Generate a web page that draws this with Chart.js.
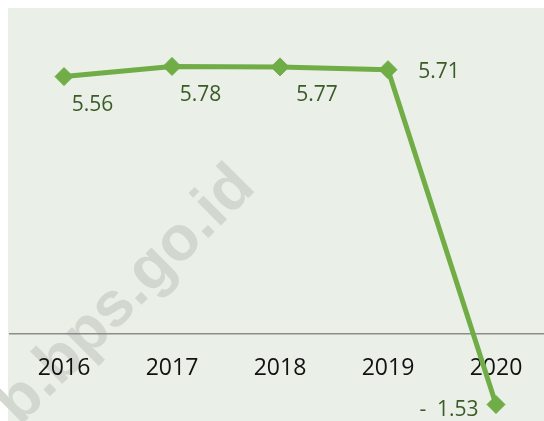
<!DOCTYPE html>
<html><head><meta charset="utf-8">
<script src="https://cdn.jsdelivr.net/npm/chart.js@4"></script>
<style>
html,body{margin:0;padding:0;overflow:hidden;background:#fff;width:544px;height:421px}
#wrap{position:absolute;left:0;top:0;width:560px;height:421px}
</style></head>
<body><div id="wrap"><canvas id="c"></canvas></div>
<script>
const categories = ['2016', '2017', '2018', '2019', '2020'];
const values = [5.56, 5.78, 5.77, 5.71, -1.53];
const valueLabels = ['5.56', '5.78', '5.77', '5.71', '-  1.53'];
const watermarkText = 'b.bps.go.id';

const bgPlugin = {
  id: 'bg',
  beforeDraw(chart) {
    const ctx = chart.ctx;
    ctx.save();
    ctx.fillStyle = '#ffffff';
    ctx.fillRect(0, 0, chart.width, chart.height);
    ctx.fillStyle = '#EAEFE7';
    ctx.fillRect(8, 8, chart.width - 8, chart.height - 8);
    ctx.translate(19.7, 426.5);
    ctx.rotate(-Math.PI / 4);
    ctx.font = 'bold 63px "Liberation Sans", Arial, sans-serif';
    ctx.fillStyle = '#D2D7D0';
    ctx.textBaseline = 'alphabetic';
    ctx.textAlign = 'left';
    ctx.fillText(watermarkText, 0, 0);
    ctx.restore();
  }
};

const labelOffsets = [[28.6, 28.5], [28.5, 28.3], [37, 28], [51, 2], [-47, 5.5]];
const labelPlugin = {
  id: 'valueLabels',
  afterDatasetsDraw(chart) {
    const ctx = chart.ctx;
    const meta = chart.getDatasetMeta(0);
    ctx.save();
    ctx.font = '21px "Open Sans", sans-serif';
    ctx.fillStyle = '#3B5B27';
    ctx.textAlign = 'center';
    ctx.textBaseline = 'middle';
    meta.data.forEach((pt, i) => {
      const o = labelOffsets[i];
      ctx.fillText(valueLabels[i], pt.x + o[0], pt.y + o[1]);
    });
    ctx.restore();
  }
};

new Chart(document.getElementById('c'), {
  type: 'line',
  data: {
    labels: categories,
    datasets: [{
      data: values,
      borderColor: '#70AD47',
      backgroundColor: '#70AD47',
      borderWidth: 5,
      borderJoinStyle: 'round',
      tension: 0,
      pointStyle: 'rectRot',
      pointRadius: 9,
      pointBorderWidth: 1,
      pointBackgroundColor: '#70AD47',
      pointBorderColor: '#70AD47',
      clip: false
    }]
  },
  options: {
    responsive: true,
    maintainAspectRatio: false,
    animation: false,
    events: [],
    layout: { padding: { left: 7.3, right: 8.7, top: 8, bottom: 0 } },
    plugins: { legend: { display: false }, tooltip: { enabled: false } },
    scales: {
      y: { display: false, min: -1.67, max: 7 },
      x: {
        position: { y: 0 },
        offset: true,
        grid: { display: false, drawTicks: false },
        border: { display: true, color: '#8C8C8C', width: 1.5 },
        ticks: {
          color: '#111111',
          padding: 21,
          maxRotation: 0,
          font: { family: '"Open Sans", sans-serif', size: 23 }
        }
      }
    }
  },
  plugins: [bgPlugin, labelPlugin]
});
</script>
</body></html>
